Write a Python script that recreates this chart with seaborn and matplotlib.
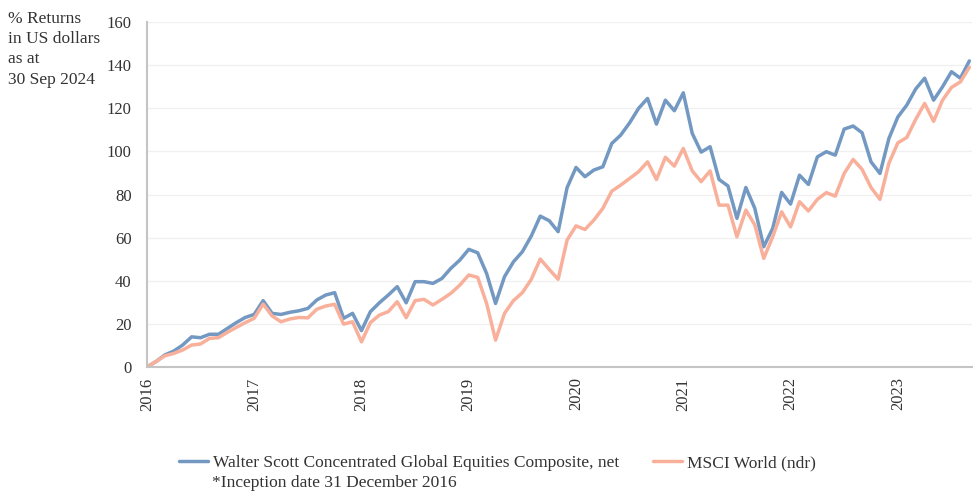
import numpy as np
import pandas as pd
import matplotlib
matplotlib.use("Agg")
import matplotlib.pyplot as plt
import seaborn as sns

# monthly cumulative returns (%), month index 0 = inception
walter_scott = [
    0, 2.5, 5.6, 7.4, 10.2, 14.0, 13.6, 15.2, 15.2, 17.9,
    20.6, 23.0, 24.4, 30.8, 24.9, 24.4, 25.4, 26.1, 27.2, 31.1,
    33.4, 34.5, 22.6, 24.9, 16.9, 25.7, 29.8, 33.4, 37.3, 29.8,
    39.6, 39.6, 38.8, 41.1, 45.8, 49.6, 54.6, 53.0, 43.4, 29.5,
    41.9, 48.8, 53.5, 60.8, 70.0, 67.9, 62.8, 83.2, 92.6, 88.3,
    91.4, 92.9, 103.7, 107.6, 113.3, 120.0, 124.6, 112.7, 123.8, 118.9,
    127.2, 108.4, 99.7, 102.2, 87.0, 84.0, 69.0, 83.3, 73.6, 55.8,
    64.3, 81.0, 75.6, 89.0, 84.7, 97.5, 99.9, 98.3, 110.4, 111.8,
    108.7, 95.2, 89.8, 106.0, 116.0, 121.5, 129.0, 134.0, 123.8, 130.0,
    137.0, 134.0, 142.0,
]
msci_world = [
    0, 2.5, 5.2, 6.3, 7.9, 10.2, 10.7, 13.3, 13.6, 16.1,
    18.4, 20.6, 22.6, 29.2, 23.7, 21.0, 22.3, 23.0, 22.8, 26.8,
    28.3, 29.1, 19.9, 21.0, 11.7, 20.6, 24.1, 25.7, 30.3, 22.9,
    30.8, 31.4, 28.8, 31.4, 34.2, 38.0, 42.7, 41.6, 29.5, 12.5,
    24.9, 30.8, 34.5, 40.7, 50.1, 45.3, 40.7, 58.9, 65.5, 63.8,
    68.2, 73.6, 81.6, 84.4, 87.5, 90.6, 95.2, 87.0, 97.3, 93.2,
    101.4, 91.0, 86.0, 91.0, 75.1, 75.1, 60.4, 72.8, 65.9, 50.4,
    60.4, 72.0, 65.0, 76.7, 72.4, 77.8, 80.9, 79.3, 89.8, 96.3,
    91.7, 83.3, 77.8, 94.5, 104.0, 106.5, 114.9, 122.3, 114.0, 123.8,
    129.7, 132.3, 139.0,
]
year_labels = ["2016", "2017", "2018", "2019", "2020", "2021", "2022", "2023"]
series_names = ["Walter Scott Concentrated Global Equities Composite, net", "MSCI World (ndr)"]

months = np.arange(len(walter_scott))
df = pd.DataFrame({
    "month": np.concatenate([months, months]),
    "value": walter_scott + msci_world,
    "series": [series_names[0]] * len(walter_scott) + [series_names[1]] * len(msci_world),
})

sns.set_theme(style="white")
plt.rcParams["font.family"] = ["Liberation Serif", "DejaVu Serif"]
text_col = "#333333"
fs = 12.5

fig = plt.figure(figsize=(9.73, 4.92), dpi=100)
ax = fig.add_axes([0.151, 0.254, 0.848, 0.701])

palette = {series_names[0]: "#7398c2", series_names[1]: "#f9b09b"}
sns.lineplot(data=df, x="month", y="value", hue="series", palette=palette,
             linewidth=2.5, ax=ax, legend=False)

ax.set_xlim(0, 92.3)
ax.set_ylim(0, 160)
ax.set_yticks(range(0, 161, 20))
ax.set_xticks(range(0, 12 * len(year_labels), 12))
ax.set_xticklabels(year_labels, rotation=90, va="top", ha="center")
ax.set_xlabel("")
ax.set_ylabel("")
ax.grid(axis="y", color="#f0f0f0", linewidth=1)
ax.set_axisbelow(True)

for side in ["top", "right"]:
    ax.spines[side].set_visible(False)
for side in ["left", "bottom"]:
    ax.spines[side].set_color("#c4c4c4")
    ax.spines[side].set_linewidth(1.5)
ax.tick_params(axis="both", colors="#b0b0b0", labelcolor=text_col,
               labelsize=12, length=4, width=1, direction="out")
ax.tick_params(axis="y", pad=7)

fig.text(0.008, 0.977, "% Returns\nin US dollars\nas at\n30 Sep 2024",
         ha="left", va="top", fontsize=fs, color=text_col, linespacing=1.34)

handles = [plt.Line2D([], [], color=palette[n], linewidth=2.5) for n in series_names]
fig.legend(handles, series_names, loc="center left", bbox_to_anchor=(0.1675, 0.059),
           ncol=2, frameon=False, fontsize=fs, handlelength=1.67, handletextpad=0.3,
           columnspacing=1.95, labelcolor=text_col)
fig.text(0.218, 0.018, "*Inception date 31 December 2016",
         ha="left", va="center", fontsize=fs, color=text_col)

fig.savefig("out.png", dpi=100)
